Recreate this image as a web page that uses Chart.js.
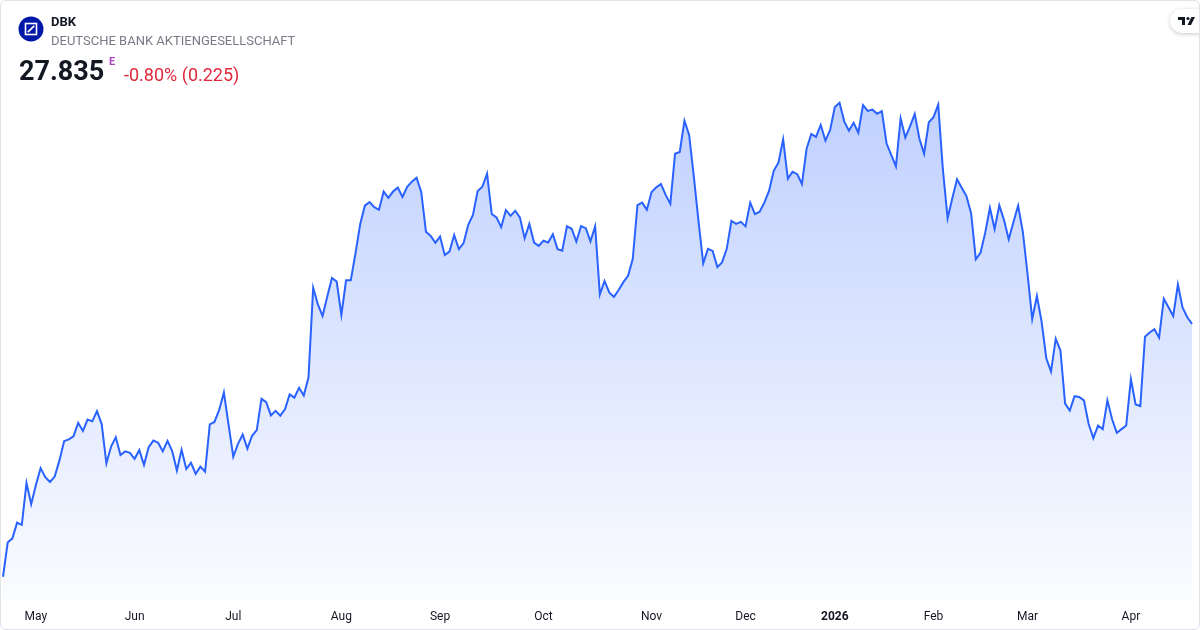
<!DOCTYPE html>
<html>
<head>
<meta charset="utf-8">
<title>DBK</title>
<script src="https://cdn.jsdelivr.net/npm/chart.js@4.4.1/dist/chart.umd.min.js"></script>
<style>
  html, body { margin: 0; padding: 0; background: #fff; }
  body { width: 1200px; height: 630px; overflow: hidden; position: relative; font-family: Roboto, sans-serif; }
  #lineChart { position: absolute; left: 0; top: 0; }
  #frame { position: absolute; left: 0; top: 0; width: 1200px; height: 630px; box-sizing: border-box;
           border: 1px solid #e0e3eb; border-radius: 6px; pointer-events: none; }
  .t { position: absolute; white-space: nowrap; line-height: 1; }
  #tvlogo { position: absolute; left: 1170px; top: 9px; width: 44px; height: 24px; background: #fff;
            border-radius: 12px; box-shadow: 0 1px 4px rgba(0,0,0,0.22); }
</style>
</head>
<body>
<canvas id="lineChart" width="1200" height="630"></canvas>

<svg style="position:absolute;left:18px;top:16px" width="26" height="26" viewBox="0 0 26 26">
  <circle cx="13" cy="13" r="12.5" fill="#0018a8"/>
  <rect x="7.5" y="7.5" width="11" height="11" fill="none" stroke="#fff" stroke-width="1.6"/>
  <line x1="9.8" y1="16.2" x2="16.2" y2="9.8" stroke="#fff" stroke-width="1.8"/>
</svg>
<div class="t" style="left:51px;top:15px;font-size:13px;font-weight:bold;color:#131722">DBK</div>
<div class="t" style="left:51px;top:34px;font-size:13px;color:#787b86">DEUTSCHE BANK AKTIENGESELLSCHAFT</div>
<div class="t" style="left:19px;top:58px;font-size:27px;font-weight:bold;color:#131722">27.835</div>
<div class="t" style="left:109px;top:56px;font-size:11px;font-weight:bold;color:#ab47bc">E</div>
<div class="t" style="left:124px;top:66px;font-size:18px;color:#e0283c">-0.80% (0.225)</div>

<div id="tvlogo">
  <svg width="24" height="24" viewBox="0 0 24 24" style="position:absolute;left:5px;top:0">
    <path d="M3 8h7v8H7v-5H3z" fill="#131722"/>
    <circle cx="13" cy="9.5" r="1.6" fill="#131722"/>
    <path d="M16.5 8h3.5l-4 8h-3.5z" fill="#131722"/>
  </svg>
</div>
<div id="frame"></div>

<script>
// trading calendar (Xetra): weekdays minus exchange holidays
const firstDay = '2025-04-22';
const lastDay = '2026-04-22';
const holidays = ['2025-05-01', '2025-12-24', '2025-12-25', '2025-12-26', '2025-12-31',
                  '2026-01-01', '2026-04-03', '2026-04-06'];
const monthNames = ['Jan', 'Feb', 'Mar', 'Apr', 'May', 'Jun', 'Jul', 'Aug', 'Sep', 'Oct', 'Nov', 'Dec'];

// daily closes, one row per month
const closes = [
  19.41, 20.55, 20.69, 21.21, 21.14, 22.53, 21.83,                                                  // Apr
  22.47, 23.03, 22.73, 22.57, 22.75, 23.28, 23.93, 23.99, 24.09, 24.54, 24.27, 24.65, 24.59, 24.93,
  24.50, 23.19, 23.75, 24.06, 23.47, 23.59, 23.54,                                                  // May
  23.34, 23.63, 23.14, 23.73, 23.95, 23.88, 23.59, 23.94, 23.60, 22.95, 23.64, 23.00, 23.21, 22.84,
  23.08, 22.91, 24.49, 24.57, 24.97, 25.55, 24.47,                                                  // Jun
  23.41, 23.84, 24.15, 23.68, 24.11, 24.30, 25.34, 25.23, 24.79, 24.94, 24.78, 24.99, 25.49, 25.38,
  25.71, 25.45, 26.05, 29.04, 28.49, 28.10, 28.75, 29.37, 29.25,                                    // Jul
  28.14, 29.29, 29.29, 30.19, 31.16, 31.78, 31.90, 31.73, 31.64, 32.25, 32.04, 32.25, 32.38, 32.07,
  32.41, 32.58, 32.71, 32.23, 30.91, 30.77, 30.54,                                                  // Aug
  30.75, 30.13, 30.25, 30.80, 30.33, 30.53, 31.14, 31.47, 32.27, 32.41, 32.85, 31.50, 31.39, 31.06,
  31.63, 31.44, 31.61, 31.38, 30.69, 31.17, 30.55, 30.44,                                           // Sep
  30.61, 30.55, 30.83, 30.33, 30.28, 31.09, 31.01, 30.58, 31.10, 31.03, 30.59, 31.09, 28.82, 29.27,
  28.89, 28.74, 28.97, 29.23, 29.44, 30.00, 31.80, 31.88, 31.64,                                    // Oct
  32.23, 32.39, 32.50, 32.14, 31.84, 33.51, 33.57, 34.61, 34.14, 32.75, 31.25, 29.86, 30.34, 30.27,
  29.73, 29.89, 30.34, 31.27, 31.17, 31.24,                                                         // Nov
  31.09, 31.88, 31.50, 31.58, 31.88, 32.27, 32.94, 33.21, 33.99, 32.68, 32.91, 32.83, 32.50, 33.69,
  34.17, 34.07, 34.47, 33.95, 34.30,                                                                // Dec
  35.07, 35.21, 34.59, 34.28, 34.54, 34.21, 35.13, 34.94, 34.98, 34.84, 34.93, 33.86, 33.47, 33.09,
  34.69, 34.05, 34.42, 34.84, 34.01, 33.51, 34.56,                                                  // Jan
  34.73, 35.15, 32.97, 31.36, 32.03, 32.66, 32.38, 32.10, 31.53, 29.99, 30.21, 30.88, 31.71, 31.00,
  31.79, 31.30, 30.66, 31.23, 31.78, 30.91,                                                         // Feb
  29.51, 28.00, 28.77, 27.91, 26.69, 26.25, 27.34, 26.96, 25.18, 24.95, 25.43, 25.40, 25.29, 24.51,
  24.03, 24.45, 24.33, 25.29, 24.66, 24.21, 24.33, 24.45,                                           // Mar
  26.00, 25.15, 25.10, 27.41, 27.55, 27.66, 27.38, 28.68, 28.39, 28.10, 29.15, 28.38, 28.06, 27.835 // Apr
];

function buildTradingDays(from, to, closed) {
  const days = [];
  const d = new Date(from + 'T00:00:00Z');
  const end = new Date(to + 'T00:00:00Z');
  while (d <= end) {
    const iso = d.toISOString().slice(0, 10);
    const wd = d.getUTCDay();
    if (wd !== 0 && wd !== 6 && !closed.includes(iso)) days.push(iso);
    d.setUTCDate(d.getUTCDate() + 1);
  }
  return days;
}

const tradingDays = buildTradingDays(firstDay, lastDay, holidays);

function monthStart(i) {
  return i > 0 && tradingDays[i].slice(5, 7) !== tradingDays[i - 1].slice(5, 7);
}

function tickLabel(i) {
  if (!monthStart(i)) return '';
  const m = parseInt(tradingDays[i].slice(5, 7), 10) - 1;
  return m === 0 ? tradingDays[i].slice(0, 4) : monthNames[m];
}

function areaGradient(context) {
  const area = context.chart.chartArea;
  if (!area) return 'rgba(41,98,255,0.15)';
  const g = context.chart.ctx.createLinearGradient(0, area.top, 0, area.bottom);
  g.addColorStop(0, 'rgba(41,98,255,0.30)');
  g.addColorStop(1, 'rgba(41,98,255,0.02)');
  return g;
}

const lineChart = document.getElementById('lineChart').getContext('2d');

new Chart(lineChart, {
  type: 'line',
  data: {
    labels: tradingDays,
    datasets: [{
      data: closes,
      borderColor: '#2962ff',
      borderWidth: 2,
      pointRadius: 0,
      tension: 0,
      fill: 'start',
      backgroundColor: areaGradient
    }]
  },
  options: {
    responsive: false,
    animation: false,
    devicePixelRatio: 1,
    layout: { padding: { top: 90, bottom: 6, left: 3, right: 8 } },
    plugins: {
      legend: { display: false },
      tooltip: { enabled: false }
    },
    scales: {
      x: {
        grid: { display: false, drawTicks: false },
        border: { display: false },
        afterFit: scale => {
          scale.height = 24;
          scale.paddingLeft = 0;
          scale.paddingRight = 0;
        },
        ticks: {
          autoSkip: false,
          maxRotation: 0,
          minRotation: 0,
          padding: 10,
          color: '#131722',
          font: c => ({
            family: 'Roboto',
            size: 12,
            weight: (c.index !== undefined && monthStart(c.index) && tradingDays[c.index].slice(5, 7) === '01') ? 'bold' : 'normal'
          }),
          callback: (value, index) => tickLabel(index)
        }
      },
      y: { display: false, min: 18.635, max: 35.635 }
    }
  }
});
</script>
</body>
</html>
